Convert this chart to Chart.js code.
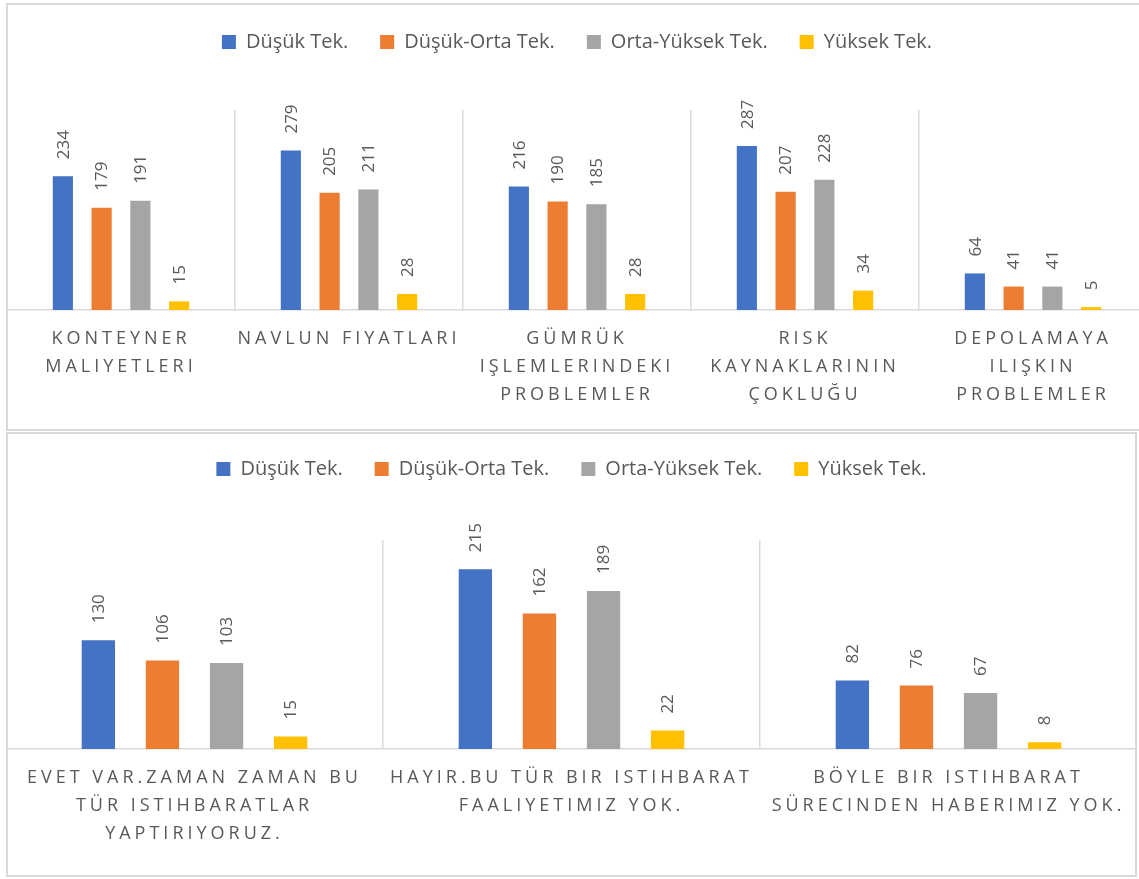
<!DOCTYPE html>
<html>
<head>
<meta charset="utf-8">
<script src="https://cdn.jsdelivr.net/npm/chart.js@4/dist/chart.umd.min.js"></script>
<style>
  html, body { margin: 0; padding: 0; background: #fff; width: 1139px; height: 879px; overflow: hidden; position: relative; }
  canvas { position: absolute; display: block; }
  .frame { position: absolute; box-sizing: border-box; border: 2px solid #d9d9d9; pointer-events: none; z-index: 5; }
</style>
</head>
<body>
<canvas id="c1" width="1140" height="430" style="left:7px;top:0px;"></canvas>
<canvas id="c2" width="1131" height="450" style="left:6px;top:427px;"></canvas>
<div class="frame" style="left:6px;top:3px;width:1200px;height:428px;"></div>
<div class="frame" style="left:6px;top:432px;width:1131px;height:445px;"></div>
<script>
// ---- Data ----
const seriesNames = ["Düşük Tek.", "Düşük-Orta Tek.", "Orta-Yüksek Tek.", "Yüksek Tek."];
const seriesColors = ["#4472C4", "#ED7D31", "#A5A5A5", "#FFC000"];

const categoriesTop = [
  ["KONTEYNER", "MALIYETLERI"],
  ["NAVLUN FIYATLARI"],
  ["GÜMRÜK", "IŞLEMLERINDEKI", "PROBLEMLER"],
  ["RISK", "KAYNAKLARININ", "ÇOKLUĞU"],
  ["DEPOLAMAYA", "ILIŞKIN", "PROBLEMLER"]
];
const lowTop     = [234, 279, 216, 287, 64];
const lowMidTop  = [179, 205, 190, 207, 41];
const midHighTop = [191, 211, 185, 228, 41];
const highTop    = [15, 28, 28, 34, 5];

const categoriesBottom = [
  ["EVET VAR.ZAMAN ZAMAN BU", "TÜR ISTIHBARATLAR", "YAPTIRIYORUZ."],
  ["HAYIR.BU TÜR BIR ISTIHBARAT", "FAALIYETIMIZ YOK."],
  ["BÖYLE BIR ISTIHBARAT", "SÜRECINDEN HABERIMIZ YOK."]
];
const lowBottom     = [130, 215, 82];
const lowMidBottom  = [106, 162, 76];
const midHighBottom = [103, 189, 67];
const highBottom    = [15, 22, 8];

const FONT = "'Open Sans', 'Noto Sans', sans-serif";
const TEXT = "#595959";

// Data labels, rotated, above each bar
const barLabels = {
  id: 'barLabels',
  afterDatasetsDraw(chart) {
    const ctx = chart.ctx;
    ctx.save();
    ctx.font = "17px " + FONT;
    ctx.fillStyle = TEXT;
    ctx.textAlign = 'left';
    ctx.textBaseline = 'middle';
    chart.data.datasets.forEach((ds, i) => {
      const meta = chart.getDatasetMeta(i);
      meta.data.forEach((bar, j) => {
        ctx.save();
        ctx.translate(bar.x, bar.y - 17);
        ctx.rotate(-Math.PI / 2);
        ctx.fillText(String(ds.data[j]), 0, 1);
        ctx.restore();
      });
    });
    ctx.restore();
  }
};

function makeLayoutPlugin(legendHeight) {
  return {
    id: 'layoutTweaks',
    beforeLayout(chart) {
      const lg = chart.legend;
      if (lg && !lg._patched) {
        const orig = lg.fit;
        lg.fit = function () { orig.call(this); this.height = legendHeight; };
        lg._patched = true;
      }
    },
    afterLayout(chart) {
      const sx = chart.scales.x;
      if (sx && !sx._patched) {
        const origDraw = sx.drawLabels;
        sx.drawLabels = function (area) {
          const c = this.ctx;
          c.save();
          c.letterSpacing = '4px';
          origDraw.call(this, area);
          c.restore();
        };
        sx._patched = true;
      }
    }
  };
}

function buildChart(id, categories, series, yMax, legendHeight, layoutTop, xHeight) {
  return new Chart(document.getElementById(id), {
    type: 'bar',
    data: {
      labels: categories,
      datasets: series.map((d, i) => ({
        label: seriesNames[i],
        data: d,
        backgroundColor: seriesColors[i],
        borderWidth: 0,
        categoryPercentage: 0.68,
        barPercentage: 0.52
      }))
    },
    options: {
      responsive: false,
      animation: false,
      devicePixelRatio: 1,
      layout: { padding: { top: layoutTop, left: 0, right: 0, bottom: 0 } },
      plugins: {
        legend: {
          position: 'top',
          labels: {
            boxWidth: 14, boxHeight: 14, padding: 32,
            color: TEXT,
            font: { family: FONT, size: 20 }
          }
        },
        tooltip: { enabled: false }
      },
      scales: {
        x: {
          grid: { offset: true, color: '#d9d9d9', lineWidth: 1.5, drawTicks: false },
          border: { color: '#d9d9d9', width: 1.5 },
          ticks: {
            color: TEXT, padding: 15, maxRotation: 0, autoSkip: false,
            font: { family: FONT, size: 18, lineHeight: 1.556 }
          },
          afterFit(scale) { scale.height = xHeight; }
        },
        y: { display: false, min: 0, max: yMax }
      }
    },
    plugins: [barLabels, makeLayoutPlugin(legendHeight)]
  });
}

buildChart('c1', categoriesTop, [lowTop, lowMidTop, midHighTop, highTop], 350, 110, 0, 120);
buildChart('c2', categoriesBottom, [lowBottom, lowMidBottom, midHighBottom, highBottom], 250, 113, 0, 128);
</script>
</body>
</html>
